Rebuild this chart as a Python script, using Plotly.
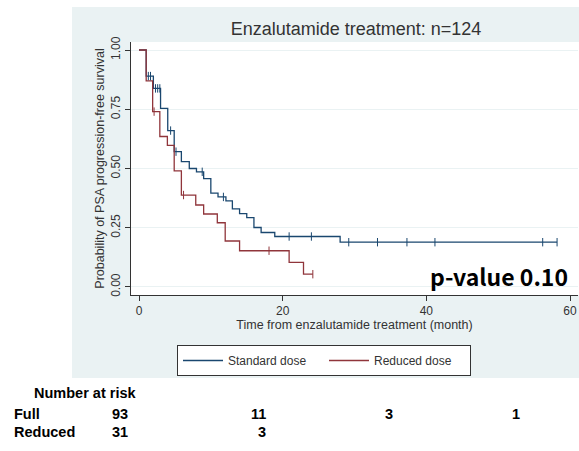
import plotly.graph_objects as go

# ---- data ----
std_times = [0, 1.0, 2.0, 3.0, 4.0, 4.9, 5.9, 7.0, 8.0, 9.0, 10.0, 11.0, 12.1, 13.0, 14.0, 15.0, 16.0, 17.0, 18.9, 28.0, 58.2]
std_surv = [1.0, 0.89, 0.838, 0.754, 0.66, 0.571, 0.529, 0.50, 0.486, 0.457, 0.396, 0.38, 0.363, 0.33, 0.31, 0.293, 0.251, 0.230, 0.213, 0.189, 0.189]
std_censor = [1.3, 1.6, 2.3, 2.6, 2.9, 4.4, 5.15, 8.8, 11.75, 20.9, 24.0, 29.2, 33.2, 37.3, 41.2, 56.2, 58.2]

red_times = [0, 1.0, 1.9, 2.9, 3.95, 4.9, 5.9, 7.9, 9.0, 10.9, 12.0, 14.0, 20.9, 22.9, 24.2]
red_surv = [1.0, 0.87, 0.74, 0.635, 0.598, 0.49, 0.388, 0.346, 0.308, 0.271, 0.194, 0.153, 0.104, 0.054, 0.054]
red_censor = [2.1, 6.2, 18.1, 24.2]

x_ticks = [0, 20, 40, 60]
y_ticks = [0, 0.25, 0.5, 0.75, 1.0]
y_ticklabels = ["0.00", "0.25", "0.50", "0.75", "1.00"]

risk_full = ["93", "11", "3", "1"]
risk_reduced = ["31", "3"]

BLUE = "#1a476f"
RED = "#90353b"
BG = "#eaf2f3"


def surv_at(times, surv, t):
    s = surv[0]
    for ti, si in zip(times, surv):
        if ti <= t:
            s = si
    return s


fig = go.Figure()
fig.add_trace(go.Scatter(x=std_times, y=std_surv, mode="lines", line=dict(color=BLUE, width=1.3, shape="hv"),
                         name="Standard dose"))
fig.add_trace(go.Scatter(x=red_times, y=red_surv, mode="lines", line=dict(color=RED, width=1.3, shape="hv"),
                         name="Reduced dose"))
fig.add_trace(go.Scatter(x=std_censor, y=[surv_at(std_times, std_surv, t) for t in std_censor], mode="markers",
                         marker=dict(symbol="line-ns", size=6, line=dict(color=BLUE, width=1)), showlegend=False,
                         hoverinfo="skip"))
fig.add_trace(go.Scatter(x=red_censor, y=[surv_at(red_times, red_surv, t) for t in red_censor], mode="markers",
                         marker=dict(symbol="line-ns", size=6, line=dict(color=RED, width=1)), showlegend=False,
                         hoverinfo="skip"))

L, R, T, B = 131, 1, 42, 156
W, H = 579, 451
pw = W - L - R
ph = H - T - B


def px(xp):
    return (xp - L) / pw


def py(yp):
    return (H - B - yp) / ph


shapes = [
    dict(type="rect", xref="paper", yref="paper", x0=px(72), x1=px(585), y0=py(378), y1=py(7),
         fillcolor=BG, line=dict(width=0), layer="below"),
    dict(type="rect", xref="paper", yref="paper", x0=0, x1=px(585), y0=0, y1=1,
         fillcolor="white", line=dict(width=0), layer="below"),
]

font_pv = "Noto Sans CJK JP, Liberation Sans, Arial"
font_tbl = "Liberation Sans, Arial"
TS = 14.5
annotations = [
    dict(text="<b>p-value 0.10</b>", xref="paper", yref="paper", x=px(570), y=py(276), xanchor="right",
         yanchor="middle", showarrow=False, font=dict(size=23, color="black", family=font_pv)),
    dict(text="<b>Number at risk</b>", xref="paper", yref="paper", x=px(32), y=py(393), xanchor="left",
         yanchor="middle", showarrow=False, font=dict(size=TS, color="black", family=font_tbl)),
    dict(text="<b>Full</b>", xref="paper", yref="paper", x=px(12), y=py(413.5), xanchor="left",
         yanchor="middle", showarrow=False, font=dict(size=TS, color="black", family=font_tbl)),
    dict(text="<b>Reduced</b>", xref="paper", yref="paper", x=px(12), y=py(431.5), xanchor="left",
         yanchor="middle", showarrow=False, font=dict(size=TS, color="black", family=font_tbl)),
]
full_right = [130, 268, 395, 522]
for txt, xr in zip(risk_full, full_right):
    annotations.append(dict(text="<b>%s</b>" % txt, xref="paper", yref="paper", x=px(xr), y=py(413.5),
                            xanchor="right", yanchor="middle", showarrow=False,
                            font=dict(size=TS, color="black", family=font_tbl)))
for txt, xr in zip(risk_reduced, full_right):
    annotations.append(dict(text="<b>%s</b>" % txt, xref="paper", yref="paper", x=px(xr), y=py(431.5),
                            xanchor="right", yanchor="middle", showarrow=False,
                            font=dict(size=TS, color="black", family=font_tbl)))

fig.update_layout(
    width=W, height=H,
    margin=dict(l=L, r=R, t=T, b=B, pad=0),
    paper_bgcolor="white",
    plot_bgcolor="white",
    font=dict(family="Liberation Sans, Arial", size=12, color="#333333"),
    title=dict(text="Enzalutamide treatment: n=124", xref="paper", x=px(356), xanchor="center",
               y=1 - 29 / H, yanchor="middle", font=dict(size=18, color="#333333")),
    shapes=shapes,
    annotations=annotations,
    showlegend=True,
    legend=dict(orientation="h", x=px(177), xanchor="left", y=py(345), yanchor="top",
                bgcolor="white", bordercolor="#333333", borderwidth=1, itemwidth=40,
                entrywidth=91,
                font=dict(size=12, color="#333333")),
    xaxis=dict(range=[-1.114, 61.114], tickvals=x_ticks, ticks="outside", ticklen=5, tickcolor="#333333",
               showline=True, linecolor="#333333", linewidth=1, showgrid=False, zeroline=False,
               title=dict(text="Time from enzalutamide treatment (month)", standoff=0, font=dict(size=12.5)),
               tickfont=dict(size=12)),
    yaxis=dict(range=[-0.0338, 1.0338], tickvals=y_ticks, ticktext=y_ticklabels, tickangle=-90,
               ticks="outside", ticklen=5, tickcolor="#333333",
               showline=True, linecolor="#333333", linewidth=1, showgrid=True, gridcolor=BG, gridwidth=1,
               zeroline=False,
               title=dict(text="Probability of PSA progression-free survival", standoff=1, font=dict(size=12.5)),
               tickfont=dict(size=12)),
)

fig.write_html("out.html", config={"displayModeBar": False},
               post_script="document.body.style.margin='0';document.body.style.overflow='hidden';")
